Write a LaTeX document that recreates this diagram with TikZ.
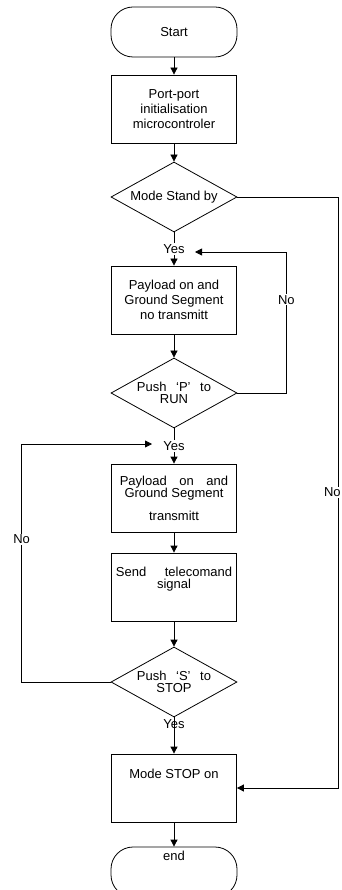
\documentclass[tikz,border=0pt]{standalone}
\usepackage{fontspec}
\setmainfont{Liberation Sans}
\usetikzlibrary{shapes.geometric, arrows.meta, positioning}

\begin{document}
\begin{tikzpicture}[
            x=1pt, y=-1pt,
            font=\fontsize{13}{15}\selectfont,
            term/.style={rectangle, rounded corners=22pt, draw, line width=0.8pt, minimum width=126pt, minimum height=50pt},
            proc/.style={rectangle, draw, line width=0.8pt, minimum width=125pt, minimum height=68pt, align=center},
            dec/.style={diamond, draw, line width=0.8pt, shape aspect=1.8, inner sep=0pt, minimum width=126pt, minimum height=70pt, align=center},
            txt/.style={align=center},
            flow/.style={line width=0.8pt, -{Triangle[length=7pt, width=7pt]}},
            lbl/.style={fill=white, inner sep=1pt}
        ]
            \useasboundingbox (0,0) rectangle (342,890);

            % START
            \node[term] (start) at (174,32) {Start};

            % INIT
            \node[proc] (init) at (174,109) {Port-port\\initialisation\\microcontroler};

            % STAND BY
            \node[dec] (standby) at (174,197) {Mode Stand by};

            % NO TRANSMIT
            \node[proc] (notx) at (174,300) {Payload on and\\Ground Segment\\no transmitt};

            % RUN
            \node[dec] (run) at (174,393) {Push\hspace{6pt} ‘P’\hspace{6pt} to\\[-3pt]RUN};

            % TRANSMIT
            \node[proc] (tx) at (174,498) {Payload\hspace{9pt} on\hspace{9pt} and\\[-3pt]Ground Segment\\[8pt]transmitt};

            % TELECOMMAND
            \node[proc] (send) at (174,587) {};
            \node[txt] (sendtxt) at (174,579) {Send\hspace{15pt} telecomand\\[-3pt]signal};

            % STOP?
            \node[dec] (stopq) at (174,682) {Push\hspace{6pt} ‘S’\hspace{6pt} to\\[-3pt]STOP};

            % STOP ON
            \node[proc] (stopon) at (174,788) {};
            \node[txt] (stopontxt) at (174,774) {Mode STOP on};

            % END
            \node[term] (stop) at (174,872) {};
            \node[txt] (stoptxt) at (174,856) {end};

            % loop points
            \coordinate (backP) at (195,252);
            \coordinate (backS) at (152,444);

            % Flow
            \draw[flow] (start) -- (init);
            \draw[flow] (init) -- (standby);
            \draw[flow] (standby) -- node[lbl] {Yes} (notx);
            \draw[flow] (notx) -- (run);
            \draw[flow] (run.east) -- ++(49,0) |- node[lbl, pos=0.33] {No} (backP);
            \draw[flow] (run) -- node[lbl] {Yes} (tx);
            \draw[flow] (tx) -- (send);
            \draw[flow] (send) -- (stopq);
            \draw[flow] (stopq.west) -- ++(-89,0) |- node[lbl, pos=0.3] {No} (backS);
            \draw[flow] (stopq) -- node[pos=0.18] {Yes} (stopon);
            \draw[flow] (standby.east) -- ++(101,0) |- node[lbl, pos=0.25, xshift=-6pt] {No} (stopon.east);
            \draw[flow] (stopon) -- (stop);
        \end{tikzpicture}
\end{document}
